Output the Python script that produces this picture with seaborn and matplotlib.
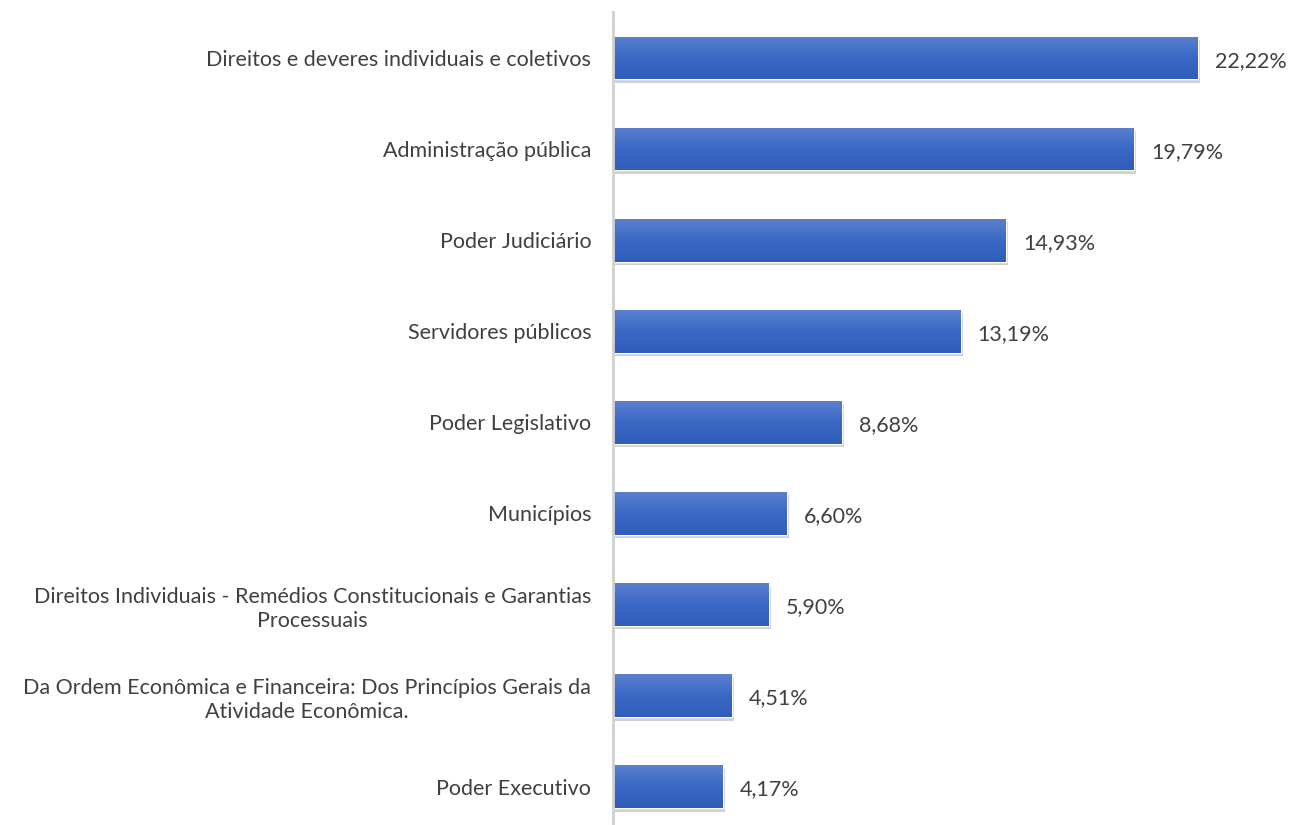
import numpy as np
import pandas as pd
import seaborn as sns
import matplotlib.pyplot as plt
import matplotlib.patheffects as pe
from matplotlib.colors import LinearSegmentedColormap

categorias = [
    'Direitos e deveres individuais e coletivos',
    'Administração pública',
    'Poder Judiciário',
    'Servidores públicos',
    'Poder Legislativo',
    'Municípios',
    'Direitos Individuais - Remédios Constitucionais e Garantias\nProcessuais',
    'Da Ordem Econômica e Financeira: Dos Princípios Gerais da\nAtividade Econômica.',
    'Poder Executivo',
]
valores = [22.22, 19.79, 14.93, 13.19, 8.68, 6.60, 5.90, 4.51, 4.17]

df = pd.DataFrame({'tema': categorias, 'pct': valores})

sns.set_style('white')
plt.rcParams['font.family'] = ['Lato', 'DejaVu Sans']

fig = plt.figure(figsize=(12.9, 8.25), dpi=100)
ax = fig.add_axes([0.4755, 0.0, 0.51, 0.985])

sns.barplot(data=df, y='tema', x='pct', orient='h', color='#4472C4',
            width=0.47, ax=ax, saturation=1)

# degradê + sombra em cada barra
grad = np.linspace(0, 1, 256).reshape(-1, 1)
cmap = LinearSegmentedColormap.from_list('azul', ['#5B80CE', '#3A68C4', '#2F5DB9'])
for p in ax.patches:
    x0, y0 = p.get_x(), p.get_y()
    w, h = p.get_width(), p.get_height()
    p.set_path_effects([pe.SimplePatchShadow(offset=(1.5, -2.5), shadow_rgbFace='#000000', alpha=0.18),
                        pe.Normal()])
    im = ax.imshow(grad, extent=(x0, x0 + w, y0 + h, y0), aspect='auto',
                   cmap=cmap, origin='upper', zorder=p.get_zorder() + 0.1)
    im.set_clip_path(p)

ax.set_xlim(0, 25)
ax.set_ylim(8.42, -0.5)

for i, v in enumerate(valores):
    ax.text(v + 0.65, i + 0.03, f'{v:.2f}%'.replace('.', ','), va='center', ha='left',
            fontsize=15.5, color='#404040')

ax.set_xlabel('')
ax.set_ylabel('')
ax.set_xticks([])
ax.tick_params(axis='y', length=0, pad=16)
for t in ax.get_yticklabels():
    t.set_fontsize(15.5)
    t.set_color('#404040')
    t.set_multialignment('center')
    t.set_linespacing(1.3)

for s in ['top', 'right', 'bottom']:
    ax.spines[s].set_visible(False)
ax.spines['left'].set_color('#D0D0D0')
ax.spines['left'].set_linewidth(2)

fig.savefig('out.png', dpi=100)
